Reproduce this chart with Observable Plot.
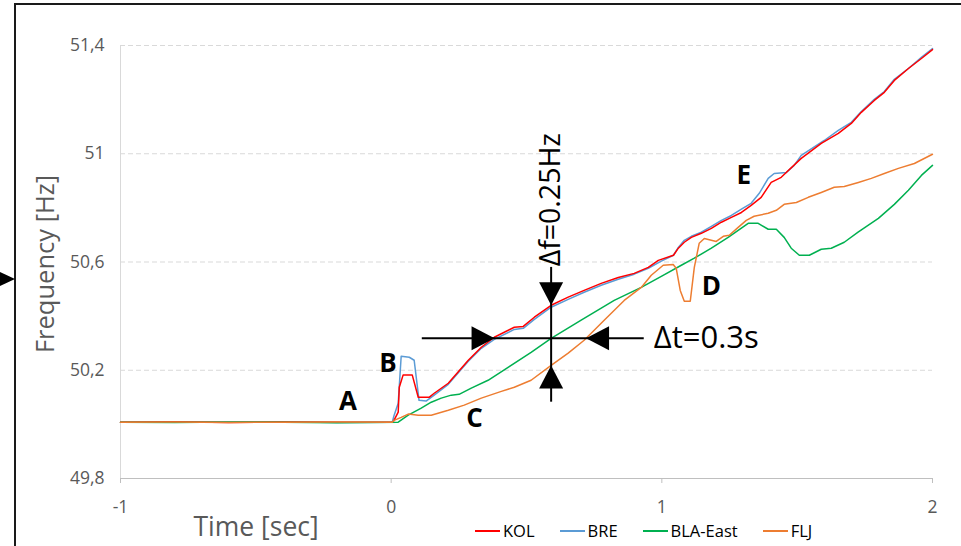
<!DOCTYPE html>
<html><head><meta charset="utf-8">
<script src="https://cdn.jsdelivr.net/npm/d3@7"></script>
<script src="https://cdn.jsdelivr.net/npm/@observablehq/plot@0.6"></script>
<style>
html,body{margin:0;padding:0;background:#fff;}
#wrap{position:relative;width:961px;height:546px;overflow:hidden;font-family:"Open Sans",sans-serif;}
#wrap svg{position:absolute;left:0;top:0;}
#frame{position:absolute;left:14px;top:3px;right:-4px;bottom:-4px;border-top:2px solid #1a1a1a;border-left:2px solid #1a1a1a;pointer-events:none;}
#pointer{position:absolute;left:0;top:272px;width:0;height:0;border-top:7px solid transparent;border-bottom:7px solid transparent;border-left:15px solid #000;}
#legend{position:absolute;left:475px;top:520px;display:flex;gap:25px;font-size:16.5px;color:#000;line-height:22px;}
.item{display:flex;align-items:center;}
.sw{width:25px;height:2px;margin-right:3px;}
</style></head><body><div id="wrap"></div>
<script>
// ---- data ----
const seriesNames = ["KOL", "BRE", "BLA-East", "FLJ"];
const seriesColors = ["#ff0000", "#5b9bd5", "#00b050", "#ed7d31"];

const kolT = [-1,-0.8,-0.6,-0.4,-0.2,0.007,0.026,0.03,0.044,0.078,0.1,0.14,0.159,0.211,0.285,0.333,0.381,0.455,0.488,0.529,0.591,0.654,0.713,0.776,0.839,0.898,0.95,0.987,1.043,1.061,1.083,1.109,1.146,1.183,1.22,1.257,1.294,1.33,1.367,1.404,1.441,1.515,1.589,1.652,1.7,1.737,1.785,1.822,1.859,1.911,1.959,2.0];
const kolF = [50.008,50.01,50.007,50.009,50.008,50.008,50.045,50.137,50.182,50.182,50.100,50.100,50.115,50.152,50.237,50.285,50.322,50.359,50.362,50.396,50.440,50.470,50.495,50.521,50.543,50.558,50.580,50.606,50.625,50.651,50.673,50.691,50.706,50.724,50.747,50.765,50.783,50.809,50.839,50.894,50.913,50.983,51.038,51.075,51.112,51.153,51.197,51.227,51.271,51.315,51.352,51.385];

const breT = [-1,-0.8,-0.6,-0.4,-0.2,0.004,0.011,0.026,0.037,0.067,0.085,0.103,0.129,0.159,0.211,0.285,0.333,0.381,0.455,0.488,0.529,0.591,0.654,0.713,0.776,0.839,0.898,0.95,0.998,1.043,1.061,1.083,1.109,1.146,1.183,1.22,1.257,1.294,1.33,1.36,1.393,1.415,1.46,1.489,1.515,1.6,1.652,1.7,1.737,1.785,1.822,1.859,1.911,1.959,2.0];
const breF = [50.008,50.009,50.008,50.01,50.007,50.008,50.034,50.078,50.252,50.248,50.237,50.089,50.086,50.108,50.148,50.233,50.281,50.314,50.351,50.355,50.388,50.433,50.462,50.488,50.514,50.536,50.555,50.577,50.603,50.625,50.654,50.680,50.695,50.710,50.732,50.754,50.772,50.795,50.817,50.854,50.909,50.927,50.931,50.957,50.994,51.049,51.086,51.116,51.156,51.201,51.230,51.275,51.315,51.356,51.389];

const blaT = [-1,-0.8,-0.6,-0.4,-0.2,0.026,0.063,0.111,0.148,0.185,0.222,0.251,0.296,0.358,0.432,0.517,0.591,0.702,0.824,0.924,0.998,1.072,1.12,1.183,1.245,1.319,1.356,1.393,1.423,1.452,1.478,1.508,1.545,1.589,1.626,1.674,1.725,1.8,1.859,1.911,1.959,2.0];
const blaF = [50.008,50.007,50.009,50.008,50.006,50.008,50.034,50.060,50.082,50.097,50.108,50.111,50.134,50.163,50.211,50.266,50.318,50.385,50.458,50.506,50.547,50.588,50.614,50.651,50.691,50.743,50.743,50.721,50.721,50.691,50.651,50.625,50.625,50.647,50.651,50.673,50.710,50.761,50.813,50.865,50.920,50.957];

const fljT = [-1,-0.8,-0.6,-0.4,-0.2,0.004,0.011,0.037,0.063,0.1,0.148,0.211,0.27,0.333,0.407,0.455,0.517,0.591,0.654,0.713,0.787,0.861,0.924,0.961,1.005,1.042,1.053,1.068,1.083,1.105,1.12,1.138,1.157,1.201,1.227,1.249,1.282,1.312,1.341,1.393,1.423,1.452,1.497,1.541,1.589,1.637,1.674,1.726,1.774,1.822,1.874,1.933,2.0];
const fljF = [50.008,50.009,50.007,50.008,50.009,50.008,50.015,50.026,50.038,50.034,50.034,50.052,50.071,50.097,50.122,50.137,50.163,50.218,50.263,50.311,50.385,50.458,50.506,50.551,50.588,50.591,50.577,50.495,50.455,50.455,50.580,50.669,50.687,50.676,50.695,50.699,50.728,50.754,50.769,50.780,50.791,50.813,50.820,50.839,50.857,50.876,50.879,50.894,50.909,50.927,50.946,50.964,50.998];

const xTicks = [-1, 0, 1, 2];
const yTicks = [49.8, 50.2, 50.6, 51, 51.4];
const gridValues = [50.2, 50.6, 51, 51.4];

// annotations (data units)
const noteLabels = ["A", "B", "C", "D", "E"];
const noteT = [-0.16, -0.012, 0.308, 1.183, 1.303];
const noteF = [50.083, 50.226, 50.02, 50.507, 50.92];

const crossT = 0.591, crossF = 50.318;
const vSpan = [50.082, 50.58];      // vertical line extent (Hz)
const hSpan = [0.115, 0.935];       // horizontal line extent (s)
const tipLeftT = 0.382, tipRightT = 0.72;   // Δt arrow tips
const tipTopF = 50.44, tipBottomF = 50.218; // Δf arrow tips
const dfLabel = "Δf=0.25Hz", dfLabelF = 50.83;
const dtLabel = "Δt=0.3s", dtLabelT = 0.97;

// ---- build ----
const table = (name, T, F) => T.map((t, i) => ({series: name, t, f: F[i]}));
const lines = [
  ...table("BRE", breT, breF),
  ...table("KOL", kolT, kolF),
  ...table("BLA-East", blaT, blaF),
  ...table("FLJ", fljT, fljF)
];
const notes = noteLabels.map((s, i) => ({s, t: noteT[i], f: noteF[i]}));

// filled triangle with its tip at the point, pointing along (dx,dy)
const tri = (dx, dy) => ({draw(ctx) {
  const L = 23, W = 12, px = -dy, py = dx;
  ctx.moveTo(0, 0);
  ctx.lineTo(-dx * L + px * W, -dy * L + py * W);
  ctx.lineTo(-dx * L - px * W, -dy * L - py * W);
  ctx.closePath();
}});

const plot = Plot.plot({
  width: 961, height: 546,
  marginLeft: 120, marginRight: 29, marginTop: 45, marginBottom: 68,
  style: {fontFamily: "Open Sans, sans-serif", background: "transparent", overflow: "visible"},
  x: {domain: [-1, 2]},
  y: {domain: [49.8, 51.4]},
  color: {domain: seriesNames, range: seriesColors},
  marks: [
    Plot.ruleY(gridValues, {stroke: "#d9d9d9", strokeDasharray: "5,3"}),
    Plot.ruleX([-1], {stroke: "#d9d9d9"}),
    Plot.ruleY([49.8], {stroke: "#bfbfbf"}),
    Plot.axisY({ticks: yTicks, tickFormat: d => String(d).replace(".", ","), tickSize: 0, tickPadding: 16, fontSize: 17.5, fill: "#595959", label: null}),
    Plot.axisX({ticks: xTicks, tickFormat: d => String(d), tickSize: 5, tickPadding: 17, fontSize: 17.5, fill: "#595959", stroke: "#bfbfbf", label: null}),
    Plot.text(["Frequency [Hz]"], {text: d => d, frameAnchor: "left", textAnchor: "middle", dx: -75, dy: 2, rotate: -90, fontSize: 25.5, fill: "#595959"}),
    Plot.text(["Time [sec]"], {text: d => d, frameAnchor: "bottom-left", textAnchor: "start", lineAnchor: "middle", dx: 73, dy: 49, fontSize: 26.5, fill: "#595959"}),
    Plot.line(lines, {x: "t", y: "f", z: "series", stroke: "series", strokeWidth: 1.5}),
    // crosshair
    Plot.ruleX([crossT], {y1: vSpan[0], y2: vSpan[1], stroke: "black", strokeWidth: 2}),
    Plot.ruleY([crossF], {x1: hSpan[0], x2: hSpan[1], stroke: "black", strokeWidth: 2}),
    Plot.dot([{t: tipLeftT, f: crossF}], {x: "t", y: "f", symbol: tri(1, 0), fill: "black", stroke: null}),
    Plot.dot([{t: tipRightT, f: crossF}], {x: "t", y: "f", symbol: tri(-1, 0), fill: "black", stroke: null}),
    Plot.dot([{t: crossT, f: tipTopF}], {x: "t", y: "f", symbol: tri(0, 1), fill: "black", stroke: null}),
    Plot.dot([{t: crossT, f: tipBottomF}], {x: "t", y: "f", symbol: tri(0, -1), fill: "black", stroke: null}),
    Plot.text([{s: dfLabel, t: crossT, f: dfLabelF}], {x: "t", y: "f", text: "s", rotate: -90, fontSize: 28.5, fill: "black"}),
    Plot.text([{s: dtLabel, t: dtLabelT, f: crossF}], {x: "t", y: "f", text: "s", textAnchor: "start", fontSize: 31, fill: "black"}),
    Plot.text(notes, {x: "t", y: "f", text: "s", fontSize: 26, fontWeight: "bold", fill: "black"})
  ]
});

const wrap = document.getElementById("wrap");
wrap.appendChild(plot);
const frame = document.createElement("div"); frame.id = "frame"; wrap.appendChild(frame);
const pointer = document.createElement("div"); pointer.id = "pointer"; wrap.appendChild(pointer);
const legend = document.createElement("div"); legend.id = "legend";
seriesNames.forEach((name, i) => {
  const item = document.createElement("div"); item.className = "item";
  const sw = document.createElement("span"); sw.className = "sw"; sw.style.background = seriesColors[i];
  const lab = document.createElement("span"); lab.textContent = name;
  item.appendChild(sw); item.appendChild(lab); legend.appendChild(item);
});
wrap.appendChild(legend);
</script></body></html>
